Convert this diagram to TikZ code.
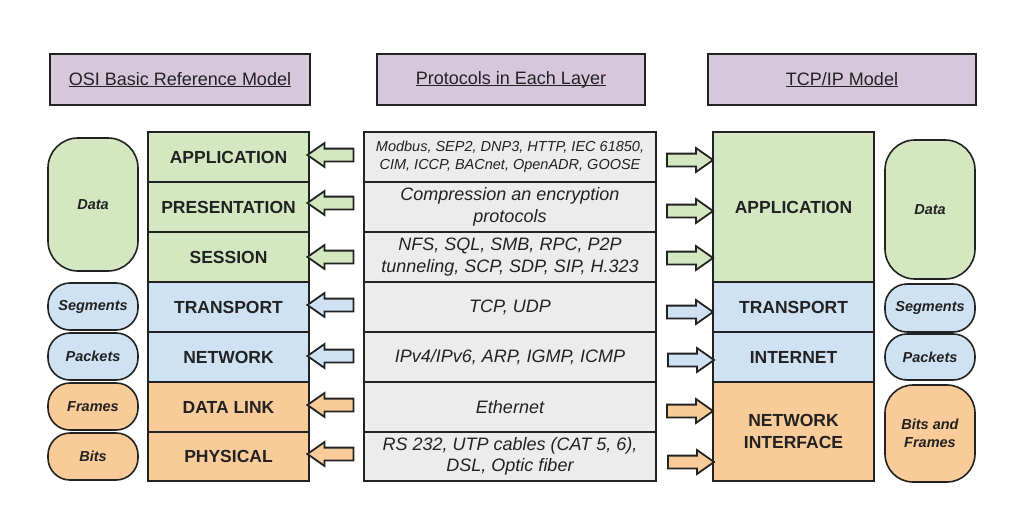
\documentclass[tikz,border=0pt]{standalone}
\usepackage{fontspec}
\setmainfont{Liberation Sans}
\usetikzlibrary{shapes.arrows}
\definecolor{appgreen}{RGB}{211,231,192}
\definecolor{netblue}{RGB}{207,226,243}
\definecolor{linkorange}{RGB}{248,203,152}
\definecolor{headpurple}{RGB}{214,199,219}
\definecolor{protogray}{RGB}{236,236,236}
\definecolor{edgegray}{RGB}{34,34,34}
\newcommand{\headul}[1]{\underline{\smash{#1}}\vphantom{#1}}
\tikzset{
	layerbox/.style={draw=edgegray, line width=1.6pt, minimum width=161pt, minimum height=50pt, align=center, text=edgegray, font=\fontsize{17.5}{21.5}\selectfont\bfseries},
	protobox/.style={draw=edgegray, line width=1.6pt, fill=protogray, minimum width=292pt, minimum height=50pt, align=center, text=edgegray, font=\fontsize{18}{21.5}\selectfont\itshape},
	titlebox/.style={draw=edgegray, line width=1.6pt, fill=headpurple, minimum width=268pt, minimum height=51pt, text=edgegray, font=\fontsize{18}{21}\selectfont},
	unitpill/.style={draw=edgegray, line width=1.6pt, minimum width=90pt, rounded corners=22pt, align=center, text=edgegray, font=\fontsize{14.5}{18}\selectfont\bfseries\itshape},
	flowarrow/.style={single arrow, draw=edgegray, line width=1.8pt, minimum height=46pt, inner sep=5.5pt, single arrow head extend=5.5pt, single arrow tip angle=70},
}

\begin{document}
\begin{tikzpicture}[x=1pt,y=-1pt]
		%%%%% START %%%%%
		\useasboundingbox (0,0) rectangle (1010,514);
		
		% headings
		\node[titlebox, minimum width=260pt] (osihead) at (180, 79.5) {\headul{OSI Basic Reference Model}};
		\node[titlebox] (protohead) at (511, 79.5) {\headul{Protocols in Each Layer}};
		\node[titlebox] (tcphead) at (842, 79.5) {\headul{TCP/IP Model}};
		
		% OSI layers
		\node[layerbox, fill=appgreen] (osiapp) at (228.5, 157) {APPLICATION};
		\node[layerbox, fill=appgreen] (osipres) at (228.5, 207) {PRESENTATION};
		\node[layerbox, fill=appgreen] (osisess) at (228.5, 257) {SESSION};
		\node[layerbox, fill=netblue] (ositrans) at (228.5, 307) {TRANSPORT};
		\node[layerbox, fill=netblue] (osinet) at (228.5, 357) {NETWORK};
		\node[layerbox, fill=linkorange] (osilink) at (228.5, 407) {DATA LINK};
		\node[layerbox, fill=linkorange, minimum height=49pt] (osiphys) at (228.5, 456.5) {PHYSICAL};
		
		% protocols
		\node[protobox, font=\fontsize{14.5}{18}\selectfont\itshape] (protoapp) at (510, 157) {Modbus, SEP2, DNP3, HTTP, IEC 61850,\\CIM, ICCP, BACnet, OpenADR, GOOSE};
		\node[protobox] (protopres) at (510, 207) {Compression an encryption\\protocols};
		\node[protobox] (protosess) at (510, 257) {NFS, SQL, SMB, RPC, P2P\\tunneling, SCP, SDP, SIP, H.323};
		\node[protobox] (prototrans) at (510, 307) {TCP, UDP};
		\node[protobox] (protonet) at (510, 357) {IPv4/IPv6, ARP, IGMP, ICMP};
		\node[protobox] (protolink) at (510, 407) {Ethernet};
		\node[protobox, minimum height=49pt] (protophys) at (510, 456.5) {RS 232, UTP cables (CAT 5, 6),\\DSL, Optic fiber};
		
		% TCP/IP layers
		\node[layerbox, fill=appgreen, minimum height=150pt] (tcpapp) at (793.5, 207) {APPLICATION};
		\node[layerbox, fill=netblue] (tcptrans) at (793.5, 307) {TRANSPORT};
		\node[layerbox, fill=netblue] (tcpinet) at (793.5, 357) {INTERNET};
		\node[layerbox, fill=linkorange, minimum height=99pt] (tcpnet) at (793.5, 431.5) {NETWORK\\INTERFACE};
		
		% data units, left
		\node[unitpill, fill=appgreen, minimum height=133pt, rounded corners=30pt] (leftdata) at (93, 204.5) {Data};
		\node[unitpill, fill=netblue, minimum height=47pt] (leftseg) at (93, 306.5) {Segments};
		\node[unitpill, fill=netblue, minimum height=47pt] (leftpack) at (93, 356.5) {Packets};
		\node[unitpill, fill=linkorange, minimum height=47pt] (leftframe) at (93, 406.5) {Frames};
		\node[unitpill, fill=linkorange, minimum height=47pt] (leftbits) at (93, 456.5) {Bits};
		
		% data units, right
		\node[unitpill, fill=appgreen, minimum height=139pt, rounded corners=30pt] (rightdata) at (930, 209.5) {Data};
		\node[unitpill, fill=netblue, minimum height=48pt] (rightseg) at (930, 308) {Segments};
		\node[unitpill, fill=netblue, minimum height=46pt] (rightpack) at (930, 357) {Packets};
		\node[unitpill, fill=linkorange, minimum height=97pt, rounded corners=28pt] (rightbits) at (930, 433.5) {Bits and\\Frames};
		
		% arrows towards OSI
		\node[flowarrow, fill=appgreen, shape border rotate=180] (arrowl1) at (335, 155) {};
		\node[flowarrow, fill=appgreen, shape border rotate=180] (arrowl2) at (335, 203) {};
		\node[flowarrow, fill=appgreen, shape border rotate=180] (arrowl3) at (335, 257) {};
		\node[flowarrow, fill=netblue, shape border rotate=180] (arrowl4) at (335, 305) {};
		\node[flowarrow, fill=netblue, shape border rotate=180] (arrowl5) at (335, 356) {};
		\node[flowarrow, fill=linkorange, shape border rotate=180] (arrowl6) at (335, 405) {};
		\node[flowarrow, fill=linkorange, shape border rotate=180] (arrowl7) at (335, 454) {};
		
		% arrows towards TCP/IP
		\node[flowarrow, fill=appgreen] (arrowr1) at (685.5, 160) {};
		\node[flowarrow, fill=appgreen] (arrowr2) at (685.5, 211) {};
		\node[flowarrow, fill=appgreen] (arrowr3) at (685.5, 258) {};
		\node[flowarrow, fill=netblue] (arrowr4) at (685.5, 312) {};
		\node[flowarrow, fill=netblue] (arrowr5) at (686.5, 360) {};
		\node[flowarrow, fill=linkorange] (arrowr6) at (685.5, 411) {};
		\node[flowarrow, fill=linkorange] (arrowr7) at (686.5, 462) {};
		%%%%% END %%%%%
	\end{tikzpicture}
\end{document}
